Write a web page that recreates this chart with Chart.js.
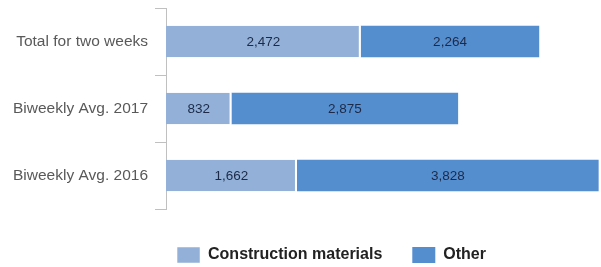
<!DOCTYPE html>
<html>
<head>
<meta charset="utf-8">
<script src="https://cdn.jsdelivr.net/npm/chart.js@4/dist/chart.umd.min.js"></script>
<style>
  html, body { margin: 0; padding: 0; background: #fff; overflow: hidden; }
  #wrap { width: 601px; height: 267px; overflow: hidden; }
</style>
</head>
<body>
<div id="wrap"><canvas id="chart" width="601" height="273"></canvas></div>
<script>
// data
var categories = ['Total for two weeks', 'Biweekly Avg. 2017', 'Biweekly Avg. 2016'];
var construction = [2472, 832, 1662];
var other = [2264, 2875, 3828];
var seriesNames = ['Construction materials', 'Other'];

// draws the number in the middle of each bar segment
var barValues = {
    id: 'barValues',
    afterDatasetsDraw: function(chart) {
        var ctx = chart.ctx;
        ctx.save();
        ctx.font = '13.5px "Liberation Sans", Arial, sans-serif';
        ctx.fillStyle = '#1c2a48';
        ctx.textAlign = 'center';
        ctx.textBaseline = 'middle';
        chart.data.datasets.forEach(function(ds, i) {
            chart.getDatasetMeta(i).data.forEach(function(bar, j) {
                var mid = (bar.x + bar.base) / 2;
                ctx.fillText(ds.data[j].toLocaleString('en-US'), mid, bar.y + 1);
            });
        });
        ctx.restore();
    }
};

// the legend in the original sits a bit right of centre
var legendShift = {
    id: 'legendShift',
    afterLayout: function(chart) {
        chart.legend.left += 31;
        chart.legend.right += 31;
    }
};

new Chart(document.getElementById('chart'), {
    type: 'bar',
    data: {
        labels: categories,
        datasets: [
            {
                label: seriesNames[0],
                data: construction,
                backgroundColor: '#93b1d8',
                borderColor: '#ffffff',
                borderWidth: { left: 0, right: 2, top: 0, bottom: 0 },
                borderSkipped: false
            },
            {
                label: seriesNames[1],
                data: other,
                backgroundColor: '#558ecf',
                borderWidth: 0
            }
        ]
    },
    options: {
        indexAxis: 'y',
        responsive: false,
        animation: false,
        categoryPercentage: 0.47,
        barPercentage: 1,
        layout: { padding: { top: 8, right: 0, left: 0, bottom: 0 } },
        scales: {
            x: {
                stacked: true,
                min: 0,
                max: 5520,
                ticks: { display: false },
                grid: { display: false },
                border: { display: false },
                afterFit: function(scale) { scale.height = 8; }
            },
            y: {
                stacked: true,
                afterFit: function(scale) {
                    scale.width = 166;
                    scale.paddingTop = 0;
                    scale.paddingBottom = 0;
                },
                grid: {
                    offset: true,
                    drawOnChartArea: false,
                    drawTicks: true,
                    tickLength: 11,
                    color: '#c0c0c0'
                },
                border: { color: '#c0c0c0', width: 1 },
                ticks: {
                    color: '#595959',
                    padding: 7,
                    font: { family: '"Liberation Sans", Arial, sans-serif', size: 15.5 }
                }
            }
        },
        plugins: {
            tooltip: { enabled: false },
            legend: {
                position: 'bottom',
                labels: {
                    boxWidth: 23,
                    boxHeight: 16,
                    padding: 30,
                    color: '#222222',
                    font: { family: '"Liberation Sans", Arial, sans-serif', size: 16, weight: 'bold' }
                }
            }
        }
    },
    plugins: [barValues, legendShift]
});
</script>
</body>
</html>
